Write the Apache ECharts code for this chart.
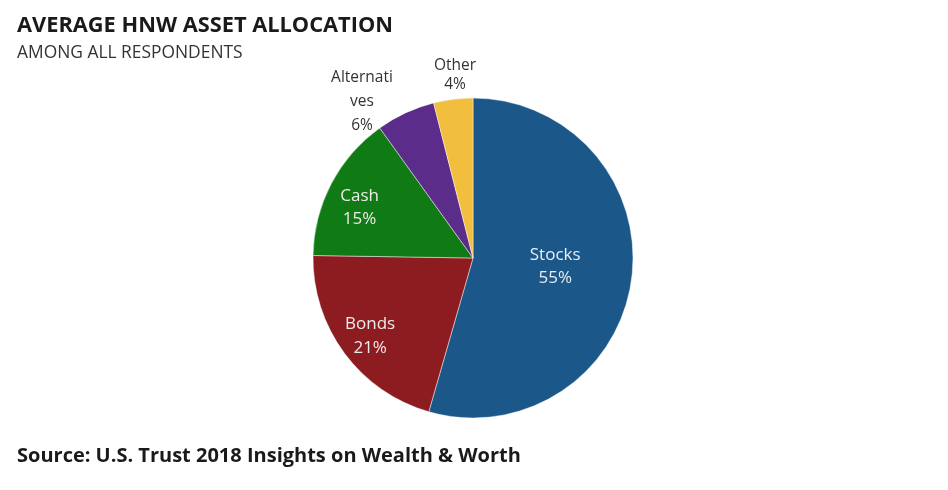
<!DOCTYPE html>
<html>

<head>
  <meta charset="UTF-8">
  <title>Average HNW Asset Allocation</title>
  <script src="https://cdn.jsdelivr.net/npm/echarts@6/dist/echarts.min.js"></script>
  <style>
    body {
      margin: 0;
      padding: 0;
      background: #ffffff;
    }

    #chart {
      width: 948px;
      height: 490px;
    }
  </style>
</head>

<body>
  <div id="chart"></div>

  <script>
    // data
    var categories = ['Stocks', 'Bonds', 'Cash', 'Alternatives', 'Other'];
    var shares = [55, 21, 15, 6, 4];
    var colors = ['#1b5889', '#8d1c20', '#107a14', '#5b2c89', '#f1be3d'];
    var insideNear = ['Stocks'];          // label at half radius
    var insideFar = ['Bonds', 'Cash'];     // label further out, on the ring
    var outsideNames = ['Alternatives', 'Other'];
    // where the outside labels sit (text centre)
    var outsideLabelPos = { 'Alternatives': [362, 102], 'Other': [455, 75] };
    // small nudges of the inside labels
    var insideNudge = { 'Stocks': -3, 'Cash': 9, 'Bonds': 2 };

    var font = '"Open Sans", sans-serif';
    var center = [473, 258];

    var chart = echarts.init(document.getElementById('chart'), null, { renderer: 'canvas' });

    function mainData() {
      return categories.map(function (name, i) {
        var item = { name: name, value: shares[i], itemStyle: { color: colors[i] } };
        if (insideNear.indexOf(name) >= 0) {
          item.label = { show: true, position: 'inside', color: '#e6edf4', fontSize: 17, lineHeight: 23.5 };
        } else if (outsideNames.indexOf(name) >= 0) {
          item.label = {
            show: true, position: 'outside', color: '#333333',
            fontSize: 15.5,
            lineHeight: name === 'Other' ? 19 : 24,
            formatter: name === 'Alternatives' ? 'Alternati\nves\n{c}%' : '{b}\n{c}%'
          };
          item.labelLine = { show: false };
        } else {
          item.label = { show: false };
        }
        return item;
      });
    }

    function ringData() {
      return categories.map(function (name, i) {
        return {
          name: name,
          value: shares[i],
          label: { show: insideFar.indexOf(name) >= 0 }
        };
      });
    }

    function nudge(p) {
      return { dy: insideNudge[categories[p.dataIndex]] || 0 };
    }

    var option = {
      backgroundColor: '#ffffff',
      animation: false,
      title: [
        {
          text: 'AVERAGE HNW ASSET ALLOCATION',
          left: 17, top: 15, padding: 0,
          textStyle: { fontFamily: font, fontSize: 21.8, fontWeight: 'bold', color: '#1a1a1a' }
        },
        {
          text: 'AMONG ALL RESPONDENTS',
          left: 17, top: 45, padding: 0,
          textStyle: { fontFamily: font, fontSize: 17.4, fontWeight: 'normal', color: '#333333' }
        },
        {
          text: 'Source: U.S. Trust 2018 Insights on Wealth & Worth',
          left: 17, top: 446, padding: 0,
          textStyle: { fontFamily: font, fontSize: 20, fontWeight: 'bold', color: '#1a1a1a' }
        }
      ],
      series: [
        {
          type: 'pie',
          center: center,
          radius: [0, 160],
          startAngle: 90,
          silent: true,
          avoidLabelOverlap: false,
          itemStyle: { borderColor: 'rgba(255,255,255,0.45)', borderWidth: 1 },
          label: {
            fontFamily: font, fontSize: 15.5, lineHeight: 23,
            formatter: '{b}\n{c}%'
          },
          labelLine: { show: false, length: 0, length2: 0 },
          labelLayout: function (p) {
            var pos = outsideLabelPos[categories[p.dataIndex]];
            if (!pos) return nudge(p);
            return { x: pos[0], y: pos[1], align: 'center', verticalAlign: 'middle' };
          },
          data: mainData()
        },
        {
          type: 'pie',
          center: center,
          radius: [90, 160],
          startAngle: 90,
          silent: true,
          avoidLabelOverlap: false,
          itemStyle: { color: 'rgba(0,0,0,0)' },
          label: {
            position: 'inside',
            fontFamily: font, fontSize: 17, lineHeight: 23.5,
            color: '#f0eaea',
            formatter: '{b}\n{c}%'
          },
          labelLine: { show: false },
          labelLayout: nudge,
          data: ringData()
        }
      ]
    };

    chart.setOption(option);
  </script>
</body>

</html>
